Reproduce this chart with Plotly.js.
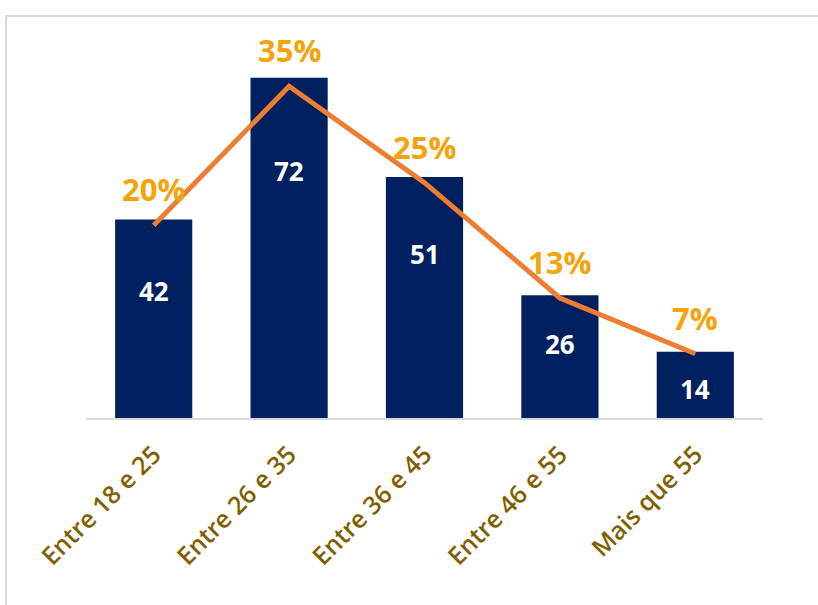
<!DOCTYPE html>
<html>
<head>
<meta charset="utf-8">
<script src="https://cdn.plot.ly/plotly-3.0.1.min.js"></script>
<style>
  html, body { margin: 0; padding: 0; background: #ffffff; overflow: hidden; }
  #wrap { position: relative; width: 818px; height: 605px; }
  #chart { position: absolute; left: 0; top: 0; width: 818px; height: 605px; }
  #frame {
    position: absolute; left: 5px; top: 15px; width: 900px; height: 700px;
    border: 2px solid #d9d9d9; pointer-events: none; box-sizing: border-box;
  }
</style>
</head>
<body>
<div id="wrap">
  <div id="chart"></div>
  <div id="frame"></div>
</div>
<script>
// Age groups and respondent counts
const categories = ['Entre 18 e 25', 'Entre 26 e 35', 'Entre 36 e 45', 'Entre 46 e 55', 'Mais que 55'];
const counts = [42, 72, 51, 26, 14];
// Share of respondents in each age group
const shares = [0.204, 0.351, 0.249, 0.127, 0.068];

// Vertical drop (px) of each count label below the top of its bar
const countLabelDrop = [71, 93, 77, 49, 37];

const navy = '#002060';
const orange = '#ED7D31';
const gold = '#F5A30A';

const bars = {
  type: 'bar',
  x: categories,
  y: counts,
  width: 0.57,
  marker: { color: navy },
  hoverinfo: 'x+y',
  showlegend: false
};

const line = {
  type: 'scatter',
  mode: 'lines',
  x: categories,
  y: shares,
  yaxis: 'y2',
  line: { color: orange, width: 5 },
  cliponaxis: false,
  hovertemplate: '%{x}: %{y:.0%}<extra></extra>',
  showlegend: false
};

const annotations = [];
categories.forEach((c, i) => {
  annotations.push({
    x: c, y: counts[i], xref: 'x', yref: 'y',
    text: String(counts[i]),
    showarrow: false,
    yshift: -countLabelDrop[i],
    font: { family: 'Open Sans, sans-serif', size: 26, color: '#ffffff', weight: 'bold' }
  });
  annotations.push({
    x: c, y: shares[i], xref: 'x', yref: 'y2',
    text: Math.round(shares[i] * 100) + '%',
    showarrow: false,
    yshift: 36,
    font: { family: 'Open Sans, sans-serif', size: 31, color: gold, weight: 'bold' }
  });
});

const layout = {
  width: 818,
  height: 605,
  margin: { l: 86, r: 55, t: 40, b: 187 },
  paper_bgcolor: 'rgba(0,0,0,0)',
  plot_bgcolor: 'rgba(0,0,0,0)',
  bargap: 0.43,
  xaxis: {
    type: 'category',
    showline: true,
    linecolor: '#d9d9d9',
    linewidth: 2,
    ticks: '',
    showgrid: false,
    tickangle: -45,
    ticklabelstandoff: 10,
    tickfont: { family: 'Open Sans, sans-serif', size: 25, color: '#7F6000', weight: 600 },
    fixedrange: true
  },
  yaxis: {
    range: [0, 80],
    visible: false,
    showgrid: false,
    zeroline: false,
    fixedrange: true
  },
  yaxis2: {
    range: [0, 0.40],
    overlaying: 'y',
    side: 'right',
    visible: false,
    showgrid: false,
    zeroline: false,
    fixedrange: true
  },
  annotations: annotations,
  showlegend: false
};

Plotly.newPlot('chart', [bars, line], layout, { displayModeBar: false });
</script>
</body>
</html>
